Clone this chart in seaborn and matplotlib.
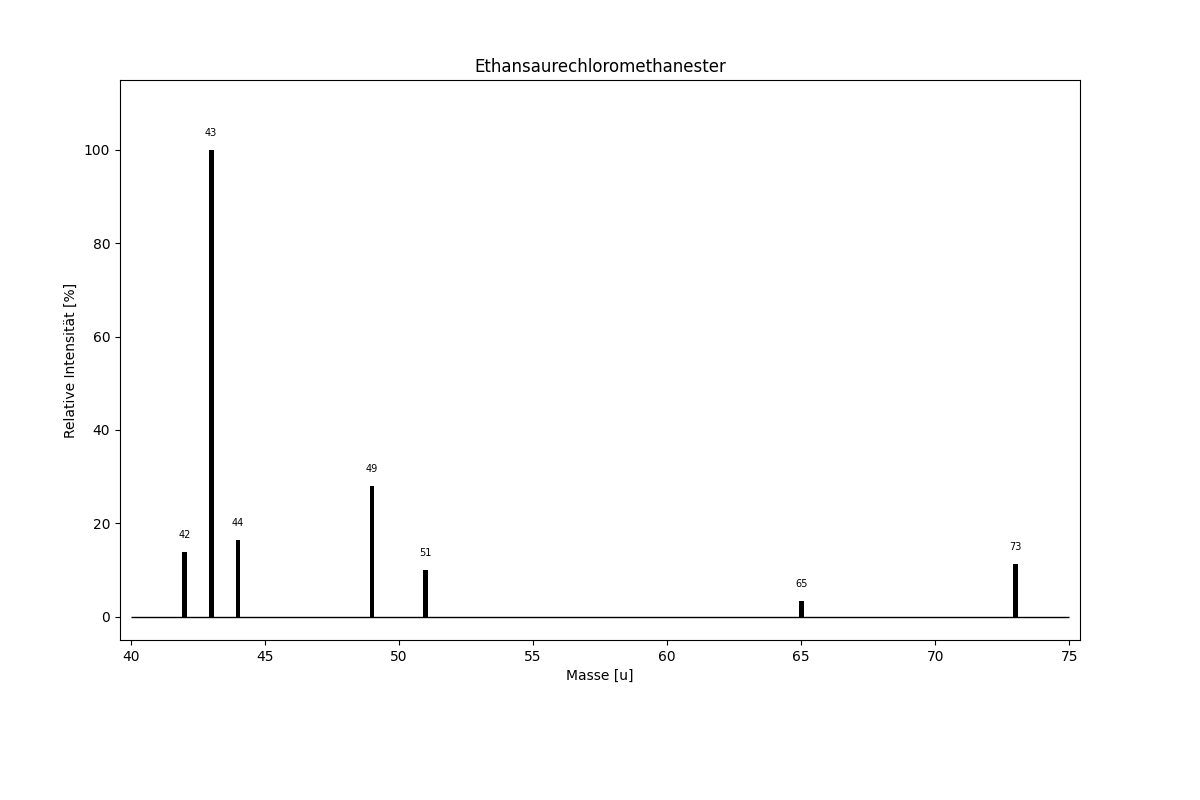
import numpy as np
import pandas as pd
import matplotlib
matplotlib.use("Agg")
import matplotlib.pyplot as plt
import seaborn as sns

# Massenspektrum-Daten
masses = [42, 43, 44, 49, 51, 65, 73]
intensities = [13.9, 100.0, 16.5, 28.0, 10.1, 3.4, 11.3]
title = "Ethansaurechloromethanester"

df = pd.DataFrame({"mass": masses, "intensity": intensities})

fig, ax = plt.subplots(figsize=(12, 8), dpi=100)
fig.subplots_adjust(left=0.1, right=0.9, top=0.9, bottom=0.2)

sns.barplot(data=df, x="mass", y="intensity", native_scale=True,
            width=0.18, color="black", saturation=1, ax=ax)
ax.hlines(0, 40, 75, color="black", linewidth=1)

for m, v in zip(masses, intensities):
    ax.text(m, v + 2.5, str(m), ha="center", va="bottom", fontsize=7)

ax.set_xlim(39.6, 75.4)
ax.set_ylim(-5, 115)
ax.set_xticks(np.arange(40, 76, 5))
ax.set_yticks(np.arange(0, 101, 20))
ax.set_title(title)
ax.set_xlabel("Masse [u]")
ax.set_ylabel("Relative Intensität [%]")

plt.savefig("out.png", dpi=100)
